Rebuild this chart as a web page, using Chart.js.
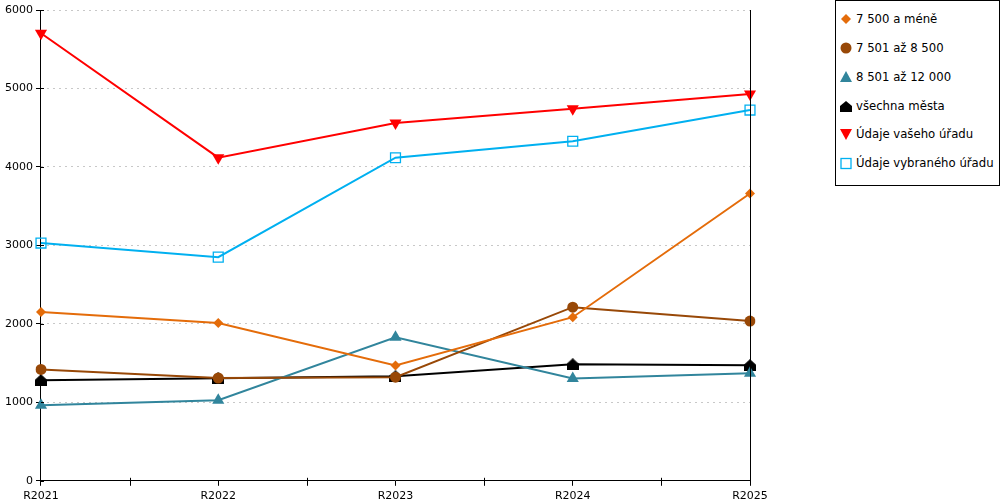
<!DOCTYPE html>
<html>
<head>
<meta charset="utf-8">
<script src="https://cdn.jsdelivr.net/npm/chart.js@4/dist/chart.umd.min.js"></script>
<style>
  body { margin: 0; background: #fff; font-family: "DejaVu Sans", sans-serif; }
  #wrap { position: relative; width: 1000px; height: 500px; overflow: hidden; }
  #legend { position: absolute; left: 835px; top: 0px; width: 163px; height: 184px; border: 1px solid #000; background: #fff; }
  .item { position: absolute; left: 4px; height: 16px; font-size: 11.7px; line-height: 16px; color: #000; white-space: nowrap; }
  .item svg { position: absolute; left: 0; top: 2px; }
  .item span { position: absolute; left: 16px; top: 0; }
</style>
</head>
<body>
<div id="wrap">
  <canvas id="chart" width="1000" height="507"></canvas>
  <div id="legend"></div>
</div>
<script>
const years = ["R2021", "R2022", "R2023", "R2024", "R2025"];

const doMene = [2150, 2010, 1470, 2085, 3662];
const do8500 = [1420, 1310, 1320, 2213, 2035];
const do12000 = [962, 1028, 1830, 1305, 1370];
const vsechna = [1282, 1307, 1332, 1486, 1474];
const vasUrad = [5703, 4118, 4560, 4740, 4930];
const vybranyUrad = [3030, 2850, 4117, 4327, 4725];

const yTicks = [0, 1000, 2000, 3000, 4000, 5000, 6000];

// house shaped marker for "všechna města"
function houseIcon(size) {
  const c = document.createElement("canvas");
  c.width = size; c.height = size;
  const ctx = c.getContext("2d");
  ctx.fillStyle = "#000";
  ctx.beginPath();
  ctx.moveTo(size / 2, 0);
  ctx.lineTo(size, size * 0.45);
  ctx.lineTo(size, size);
  ctx.lineTo(0, size);
  ctx.lineTo(0, size * 0.45);
  ctx.closePath();
  ctx.fill();
  return c;
}

const series = [
  { label: "7 500 a méně", data: doMene, color: "#E46C0A", style: "rectRot", r: 5, fill: true },
  { label: "7 501 až 8 500", data: do8500, color: "#984807", style: "circle", r: 5.5, fill: true },
  { label: "8 501 až 12 000", data: do12000, color: "#31859C", style: "triangle", r: 7, fill: true },
  { label: "všechna města", data: vsechna, color: "#000000", style: houseIcon(12), r: 6, fill: true },
  { label: "Údaje vašeho úřadu", data: vasUrad, color: "#FF0000", style: "triangle", rot: 180, r: 7, fill: true },
  { label: "Údaje vybraného úřadu", data: vybranyUrad, color: "#00B0F0", style: "rect", r: 7, fill: false }
];

const datasets = series.map(s => ({
  label: s.label,
  data: s.data,
  borderColor: s.color,
  backgroundColor: s.fill ? s.color : "#ffffff",
  pointBackgroundColor: s.fill ? s.color : "rgba(255,255,255,0)",
  pointBorderColor: s.color,
  pointBorderWidth: s.fill ? 0 : 1.3,
  pointStyle: s.style,
  pointRotation: s.rot || 0,
  pointRadius: s.r,
  pointHoverRadius: s.r,
  borderWidth: 2,
  tension: 0
}));

// midpoint ticks on x axis, y ticks crossing the axis, right frame line
const extras = {
  id: "extras",
  afterDraw(chart) {
    const ctx = chart.ctx;
    const x = chart.scales.x;
    const y = chart.scales.y;
    const a = chart.chartArea;
    ctx.save();
    ctx.strokeStyle = "#000";
    ctx.lineWidth = 1;
    ctx.beginPath();
    for (let i = 0; i < years.length - 1; i++) {
      const px = Math.round(x.getPixelForValue(i + 0.5)) + 0.5;
      ctx.moveTo(px, a.bottom - 3);
      ctx.lineTo(px, a.bottom + 5);
    }
    yTicks.forEach(v => {
      const py = Math.round(y.getPixelForValue(v)) + 0.5;
      ctx.moveTo(a.left, py);
      ctx.lineTo(a.left + 3, py);
    });
    const rx = Math.round(a.right) + 0.5;
    ctx.moveTo(rx, a.top);
    ctx.lineTo(rx, a.bottom);
    ctx.stroke();
    ctx.restore();
  }
};

new Chart(document.getElementById("chart"), {
  type: "line",
  data: { labels: years, datasets },
  options: {
    responsive: false,
    animation: false,
    devicePixelRatio: 1,
    layout: { padding: { left: 2, right: 250, top: 10, bottom: 0 } },
    plugins: { legend: { display: false }, tooltip: { enabled: false } },
    scales: {
      x: {
        offset: false,
        grid: { display: true, drawOnChartArea: false, tickLength: 5, color: "#000" },
        border: { color: "#000", width: 1 },
        ticks: { color: "#000", font: { family: "DejaVu Sans", size: 11 }, padding: 4, maxRotation: 0, autoSkip: false }
      },
      y: {
        min: 0,
        max: 6000,
        afterBuildTicks(scale) { scale.ticks = yTicks.map(v => ({ value: v })); },
        grid: { color: "#c8c8c8", tickColor: "#000", tickLength: 5, tickBorderDash: [], lineWidth: 1 },
        border: { color: "#000", width: 1, dash: [2, 4] },
        ticks: {
          color: "#000",
          font: { family: "DejaVu Sans", size: 11 },
          padding: 3,
          callback: v => String(v)
        }
      }
    }
  },
  plugins: [extras]
});

// legend
function iconSvg(i) {
  const s = series[i];
  const c = s.color;
  let shape = "";
  if (i === 0) shape = `<polygon points="6,1 11,6 6,11 1,6" fill="${c}"/>`;
  if (i === 1) shape = `<circle cx="6" cy="6" r="5.5" fill="${c}"/>`;
  if (i === 2) shape = `<polygon points="6,0 12,11 0,11" fill="${c}"/>`;
  if (i === 3) shape = `<polygon points="6,1 12,6 12,12 0,12 0,6" fill="${c}"/>`;
  if (i === 4) shape = `<polygon points="0,1 12,1 6,12" fill="${c}"/>`;
  if (i === 5) shape = `<rect x="1" y="1.5" width="10" height="10" fill="none" stroke="${c}" stroke-width="1.3"/>`;
  return `<svg width="12" height="13" viewBox="0 0 12 13">${shape}</svg>`;
}
const legend = document.getElementById("legend");
const itemTops = [10, 39, 68, 97, 125, 154];
series.forEach((s, i) => {
  const d = document.createElement("div");
  d.className = "item";
  d.style.top = itemTops[i] + "px";
  d.innerHTML = iconSvg(i) + "<span>" + s.label + "</span>";
  legend.appendChild(d);
});
</script>
</body>
</html>
